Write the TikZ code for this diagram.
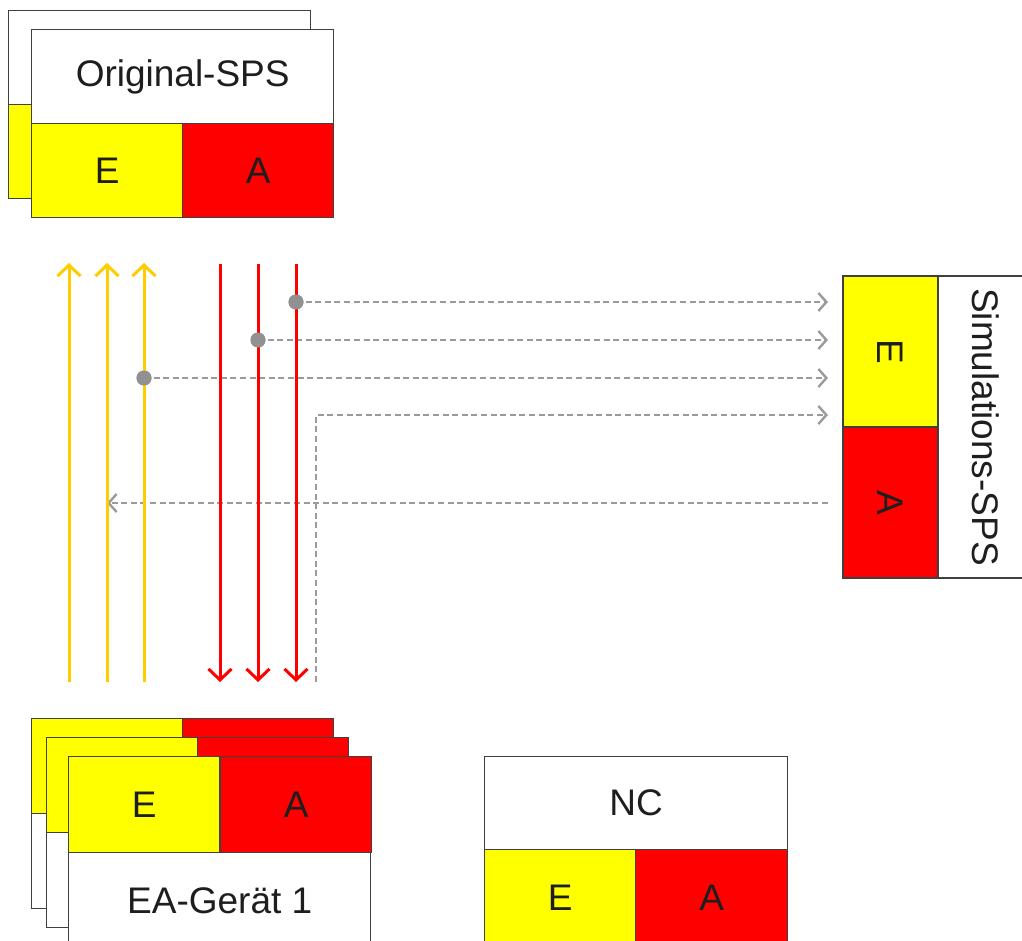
\documentclass[tikz,border=0pt]{standalone}
\usepackage{fontspec}
\setmainfont{Liberation Sans}
\usetikzlibrary{arrows.meta}
\definecolor{cy}{RGB}{255,255,0}
\definecolor{cr}{RGB}{255,0,0}
\definecolor{gold}{RGB}{255,204,0}
\definecolor{dgray}{RGB}{155,155,155}
\definecolor{dotgray}{RGB}{145,145,145}
\definecolor{txt}{RGB}{30,30,30}
\tikzset{
  cell/.style={draw=black!75, line width=0.7pt, inner sep=0pt, anchor=north west,
    minimum height=47pt, font=\fontsize{18.5}{21}\selectfont, text=txt},
  ecell/.style={cell, fill=cy, minimum width=75.5pt},
  acell/.style={cell, fill=cr, minimum width=75.5pt},
  wcell/.style={cell, fill=white, minimum width=151pt},
  yarrow/.style={draw=gold, line width=1.5pt, -{Straight Barb[length=5.5pt,width=11.5pt]}},
  rarrow/.style={draw=cr, line width=1.5pt, -{Straight Barb[length=5.5pt,width=11.5pt]}},
  garrow/.style={draw=dgray, line width=1.4pt, dash pattern=on 3pt off 1.8pt,
    -{Straight Barb[length=4pt,width=9pt,line width=1.2pt]}},
  dot/.style={circle, fill=dotgray, inner sep=0pt, minimum size=7.5pt},
}
\begin{document}
\begin{tikzpicture}[x=0.5pt,y=-0.5pt]
\useasboundingbox (0,0) rectangle (1022,941);
\clip (0,0) rectangle (1022,941);

% ---------- Original-SPS stack ----------
\node[wcell] (o0w) at (8,10) {};
\node[ecell] (o0e) at (8,104) {};
\node[acell] (o0a) at (159,104) {};
\node[wcell] (o1w) at (31,29) {Original-SPS};
\node[ecell] (o1e) at (31,123) {E};
\node[acell] (o1a) at (182,123) {A};

% ---------- EA-Geraet stack ----------
\node[ecell, minimum height=47.5pt] (g1e) at (31,718) {};
\node[acell, minimum height=47.5pt] (g1a) at (182,718) {};
\node[wcell, minimum height=47.5pt] (g1w) at (31,813) {};
\node[ecell, minimum height=47.5pt] (g2e) at (46,737) {};
\node[acell, minimum height=47.5pt] (g2a) at (197,737) {};
\node[wcell, minimum height=47.5pt] (g2w) at (46,832) {};
\node[ecell, minimum height=48pt] (g3e) at (68,756) {E};
\node[acell, minimum height=48pt] (g3a) at (220,756) {A};
\node[wcell, minimum height=48pt] (g3w) at (68,852) {EA-Gerät 1};

% ---------- NC ----------
\node[wcell, minimum width=151.5pt, minimum height=46.5pt] (ncw) at (484,756) {NC};
\node[ecell, minimum height=48pt] (nce) at (484,849) {E};
\node[acell, minimum width=76pt, minimum height=48pt] (nca) at (635,849) {A};

% ---------- Simulations-SPS ----------
\node[ecell, anchor=center, rotate=-90, minimum width=75.5pt, minimum height=47.5pt] (se) at (890.5,351.5) {E};
\node[acell, anchor=center, rotate=-90, minimum width=75.5pt, minimum height=47.5pt] (sa) at (890.5,502.5) {A};
\node[wcell, anchor=center, rotate=-90, minimum width=151pt, minimum height=47.5pt] (sw) at (985.5,427) {Simulations-SPS};

% ---------- coordinates ----------
\coordinate (y1b) at (69,682);  \coordinate (y1t) at (69,263);
\coordinate (y2b) at (107,682); \coordinate (y2t) at (107,263);
\coordinate (y3b) at (144,682); \coordinate (y3t) at (144,263);
\coordinate (r1t) at (220,264); \coordinate (r1b) at (220,682);
\coordinate (r2t) at (258,264); \coordinate (r2b) at (258,682);
\coordinate (r3t) at (296,264); \coordinate (r3b) at (296,682);
\coordinate (t1) at (828,302);
\coordinate (t2) at (828,340);
\coordinate (t3) at (828,378);
\coordinate (t4) at (828,415);
\coordinate (nb) at (316,682);
\coordinate (ls) at (828,503);
\coordinate (le) at (107,503);

% ---------- dashed links ----------
\node[dot] (d1) at (296,302) {};
\node[dot] (d2) at (258,340) {};
\node[dot] (d3) at (144,378) {};
\draw[garrow] (d1.center) -- (t1);
\draw[garrow] (d2.center) -- (t2);
\draw[garrow] (d3.center) -- (t3);
\draw[garrow] (nb) |- (t4);
\draw[garrow] (ls) -- (le);

% ---------- signal lines ----------
\draw[yarrow] (y1b) -- (y1t);
\draw[yarrow] (y2b) -- (y2t);
\draw[yarrow] (y3b) -- (y3t);
\draw[rarrow] (r1t) -- (r1b);
\draw[rarrow] (r2t) -- (r2b);
\draw[rarrow] (r3t) -- (r3b);

\node[dot] at (296,302) {};
\node[dot] at (258,340) {};
\node[dot] at (144,378) {};
\end{tikzpicture}
\end{document}
